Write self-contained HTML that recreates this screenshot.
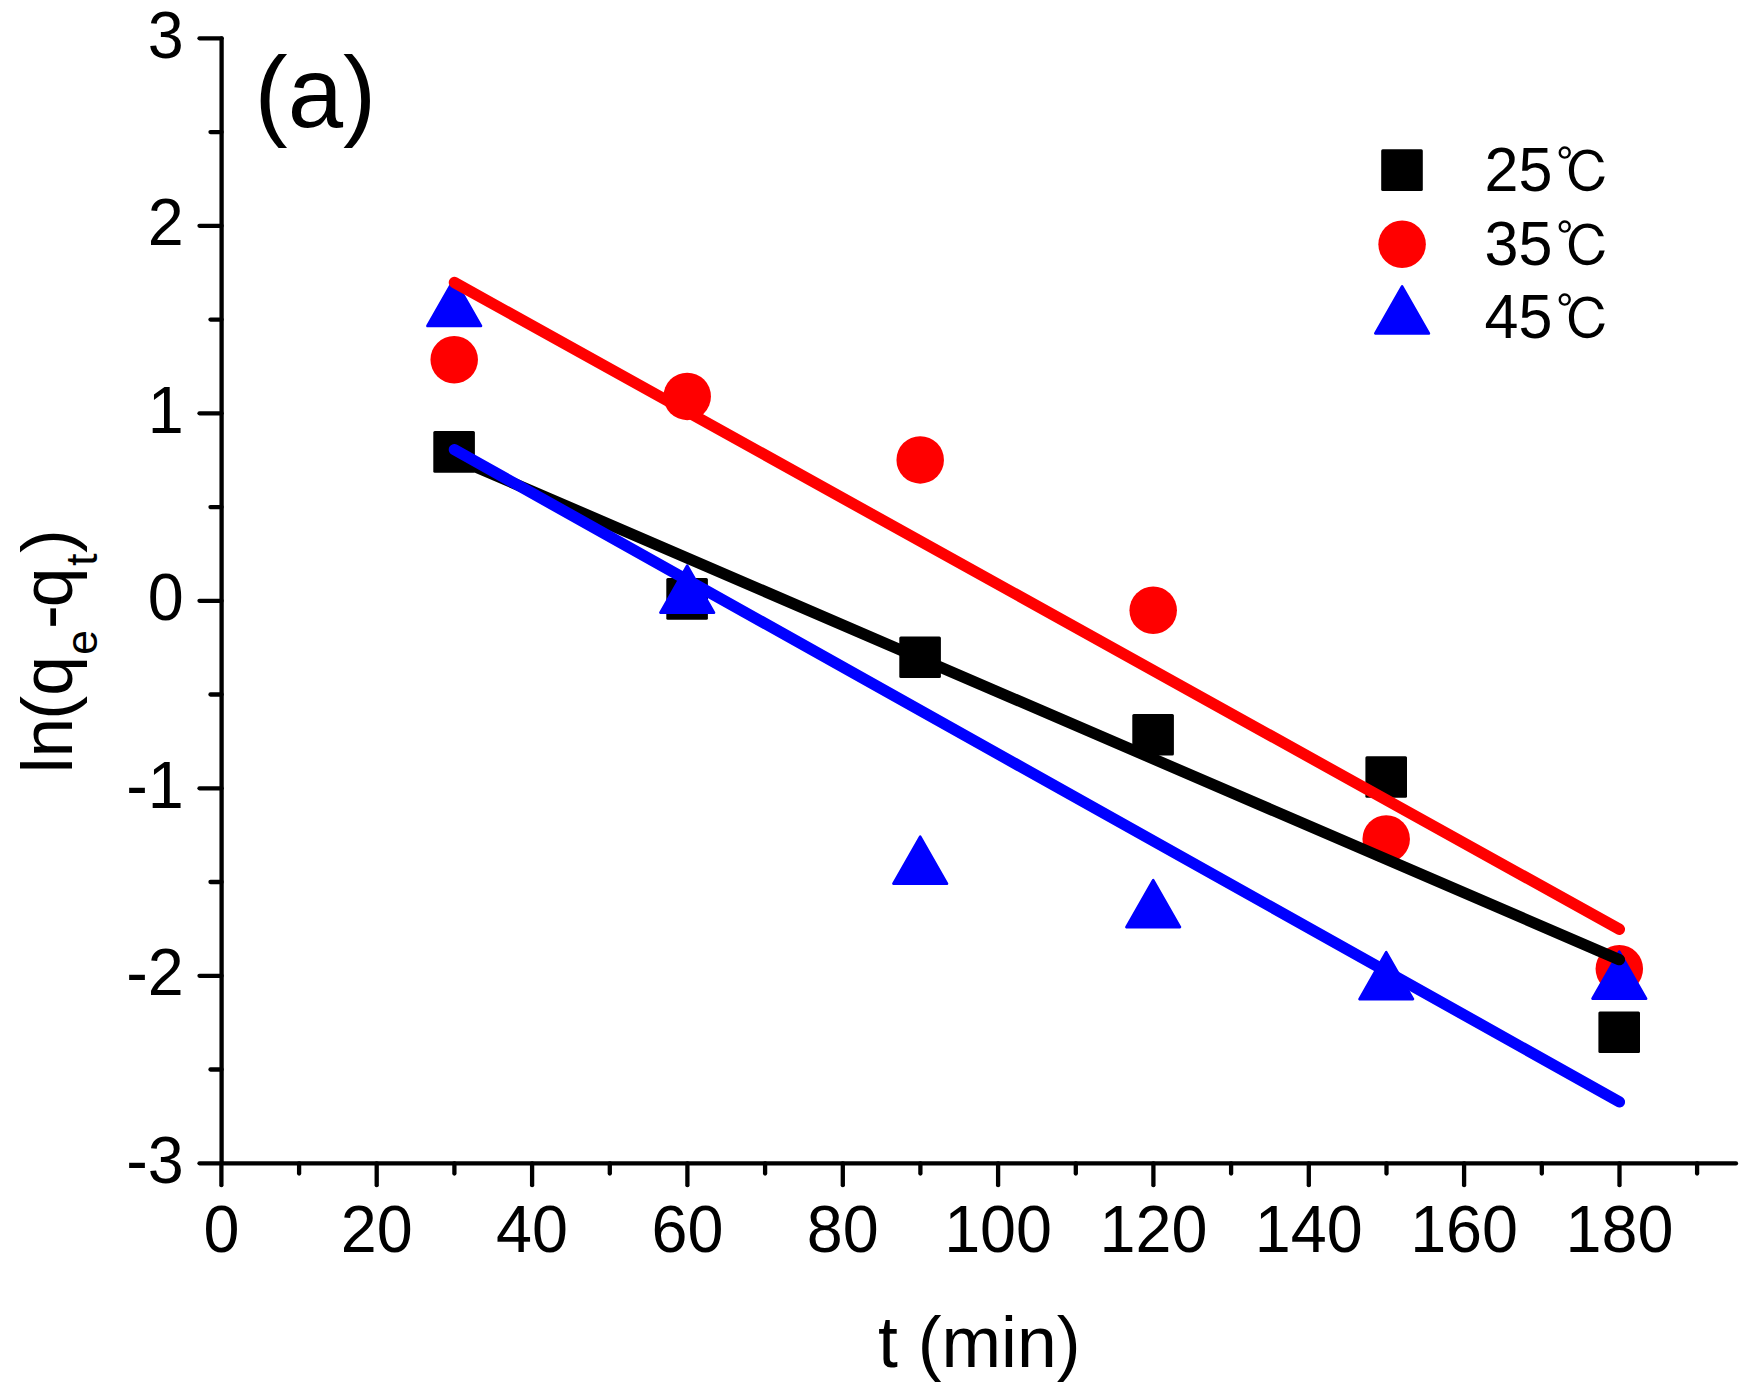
<!DOCTYPE html>
<html><head><meta charset="utf-8"><title>Pseudo-first-order kinetics</title>
<style>html,body{margin:0;padding:0;background:#fff}body{width:1748px;height:1396px;overflow:hidden}svg{display:block}text{font-family:"Liberation Sans","Noto Serif CJK SC",sans-serif;fill:#000}</style>
</head><body>
<svg width="1748" height="1396" viewBox="0 0 1748 1396">
<rect width="1748" height="1396" fill="#fff"/>
<g stroke="#000" stroke-width="4.3" stroke-linecap="round" fill="none">
<line x1="221.6" y1="38.3" x2="221.6" y2="1163.4"/>
<line x1="221.6" y1="1163.4" x2="1736.0" y2="1163.4"/>
<line x1="199.5" y1="38.3" x2="221.6" y2="38.3"/>
<line x1="210.5" y1="132.1" x2="221.6" y2="132.1"/>
<line x1="199.5" y1="225.8" x2="221.6" y2="225.8"/>
<line x1="210.5" y1="319.6" x2="221.6" y2="319.6"/>
<line x1="199.5" y1="413.3" x2="221.6" y2="413.3"/>
<line x1="210.5" y1="507.1" x2="221.6" y2="507.1"/>
<line x1="199.5" y1="600.8" x2="221.6" y2="600.8"/>
<line x1="210.5" y1="694.5" x2="221.6" y2="694.5"/>
<line x1="199.5" y1="788.3" x2="221.6" y2="788.3"/>
<line x1="210.5" y1="882.0" x2="221.6" y2="882.0"/>
<line x1="199.5" y1="975.8" x2="221.6" y2="975.8"/>
<line x1="210.5" y1="1069.5" x2="221.6" y2="1069.5"/>
<line x1="199.5" y1="1163.3" x2="221.6" y2="1163.3"/>
<line x1="221.4" y1="1163.4" x2="221.4" y2="1185.2"/>
<line x1="299.1" y1="1163.4" x2="299.1" y2="1173.6"/>
<line x1="376.7" y1="1163.4" x2="376.7" y2="1185.2"/>
<line x1="454.4" y1="1163.4" x2="454.4" y2="1173.6"/>
<line x1="532.1" y1="1163.4" x2="532.1" y2="1185.2"/>
<line x1="609.8" y1="1163.4" x2="609.8" y2="1173.6"/>
<line x1="687.4" y1="1163.4" x2="687.4" y2="1185.2"/>
<line x1="765.1" y1="1163.4" x2="765.1" y2="1173.6"/>
<line x1="842.8" y1="1163.4" x2="842.8" y2="1185.2"/>
<line x1="920.4" y1="1163.4" x2="920.4" y2="1173.6"/>
<line x1="998.1" y1="1163.4" x2="998.1" y2="1185.2"/>
<line x1="1075.8" y1="1163.4" x2="1075.8" y2="1173.6"/>
<line x1="1153.4" y1="1163.4" x2="1153.4" y2="1185.2"/>
<line x1="1231.1" y1="1163.4" x2="1231.1" y2="1173.6"/>
<line x1="1308.8" y1="1163.4" x2="1308.8" y2="1185.2"/>
<line x1="1386.5" y1="1163.4" x2="1386.5" y2="1173.6"/>
<line x1="1464.1" y1="1163.4" x2="1464.1" y2="1185.2"/>
<line x1="1541.8" y1="1163.4" x2="1541.8" y2="1173.6"/>
<line x1="1619.5" y1="1163.4" x2="1619.5" y2="1185.2"/>
<line x1="1697.1" y1="1163.4" x2="1697.1" y2="1173.6"/>
</g>
<g font-size="64.7">
<text transform="translate(183.8,57.9) scale(1,1.027)" text-anchor="end">3</text>
<text transform="translate(183.8,245.4) scale(1,1.027)" text-anchor="end">2</text>
<text transform="translate(183.8,432.9) scale(1,1.027)" text-anchor="end">1</text>
<text transform="translate(183.8,620.4) scale(1,1.027)" text-anchor="end">0</text>
<text transform="translate(183.8,807.9) scale(1,1.027)" text-anchor="end">-1</text>
<text transform="translate(183.8,995.4) scale(1,1.027)" text-anchor="end">-2</text>
<text transform="translate(183.8,1182.9) scale(1,1.027)" text-anchor="end">-3</text>
<text transform="translate(221.4,1252.3) scale(1,1.027)" text-anchor="middle">0</text>
<text transform="translate(376.7,1252.3) scale(1,1.027)" text-anchor="middle">20</text>
<text transform="translate(532.1,1252.3) scale(1,1.027)" text-anchor="middle">40</text>
<text transform="translate(687.4,1252.3) scale(1,1.027)" text-anchor="middle">60</text>
<text transform="translate(842.8,1252.3) scale(1,1.027)" text-anchor="middle">80</text>
<text transform="translate(998.1,1252.3) scale(1,1.027)" text-anchor="middle">100</text>
<text transform="translate(1153.4,1252.3) scale(1,1.027)" text-anchor="middle">120</text>
<text transform="translate(1308.8,1252.3) scale(1,1.027)" text-anchor="middle">140</text>
<text transform="translate(1464.1,1252.3) scale(1,1.027)" text-anchor="middle">160</text>
<text transform="translate(1619.5,1252.3) scale(1,1.027)" text-anchor="middle">180</text>
</g>
<text x="979.3" y="1366.7" font-size="71.5" text-anchor="middle">t (min)</text>
<text transform="translate(72.1,773.3) rotate(-90)" font-size="71.5">ln<tspan dx="-2">(q</tspan><tspan font-size="45" dx="1.2" dy="25.2">e</tspan><tspan dx="0.8" dy="-25.2">-</tspan><tspan dx="-2">q</tspan><tspan font-size="45" dx="1.5" dy="25.2">t</tspan><tspan dx="0.5" dy="-25.2">)</tspan></text>
<text x="254.5" y="126.5" font-size="99.5">(a)</text>
<g>
<rect x="433.3" y="431.1" width="41.6" height="41.6" rx="1.5" fill="#000"/>
<rect x="666.3" y="578.1" width="41.6" height="41.6" rx="1.5" fill="#000"/>
<rect x="899.3" y="636.5" width="41.6" height="41.6" rx="1.5" fill="#000"/>
<rect x="1132.3" y="713.9" width="41.6" height="41.6" rx="1.5" fill="#000"/>
<rect x="1365.4" y="756.2" width="41.6" height="41.6" rx="1.5" fill="#000"/>
<rect x="1598.4" y="1011.5" width="41.6" height="41.6" rx="1.5" fill="#000"/>
<circle cx="454.2" cy="359.7" r="23.75" fill="#f00"/>
<circle cx="687.2" cy="396.4" r="23.75" fill="#f00"/>
<circle cx="920.2" cy="459.9" r="23.75" fill="#f00"/>
<circle cx="1153.2" cy="610.3" r="23.75" fill="#f00"/>
<circle cx="1386.2" cy="839.0" r="23.75" fill="#f00"/>
<circle cx="1619.3" cy="968.8" r="23.75" fill="#f00"/>
<polygon points="427.4,326.0 481.0,326.0 454.2,279.0" fill="#00f" stroke="#00f" stroke-width="2.6" stroke-linejoin="round"/>
<polygon points="660.4,612.7 714.0,612.7 687.2,565.7" fill="#00f" stroke="#00f" stroke-width="2.6" stroke-linejoin="round"/>
<polygon points="893.4,883.7 947.0,883.7 920.2,836.7" fill="#00f" stroke="#00f" stroke-width="2.6" stroke-linejoin="round"/>
<polygon points="1126.4,927.1 1180.0,927.1 1153.2,880.1" fill="#00f" stroke="#00f" stroke-width="2.6" stroke-linejoin="round"/>
<polygon points="1359.5,999.1 1413.0,999.1 1386.2,952.1" fill="#00f" stroke="#00f" stroke-width="2.6" stroke-linejoin="round"/>
<polygon points="1592.5,998.7 1646.1,998.7 1619.3,951.7" fill="#00f" stroke="#00f" stroke-width="2.6" stroke-linejoin="round"/>
</g>
<g stroke-width="11.3" stroke-linecap="round" fill="none">
<line x1="454.4" y1="457.7" x2="1619.4" y2="959.7" stroke="#000"/>
<line x1="454.4" y1="282.5" x2="1619.4" y2="929.3" stroke="#f00"/>
<line x1="454.4" y1="449.6" x2="1619.4" y2="1101.9" stroke="#00f"/>
</g>
<rect x="1381.2" y="149.3" width="41.6" height="41.6" rx="1.5" fill="#000"/>
<circle cx="1402.1" cy="244.3" r="23.75" fill="#f00"/>
<polygon points="1375.3,333.4 1428.9,333.4 1402.1,286.4" fill="#00f" stroke="#00f" stroke-width="2.6" stroke-linejoin="round"/>
<text transform="translate(1484.5,191.0) scale(1,1.03)" font-size="61">25<tspan x="71.2" y="1.5" font-family="IPAGothic,Noto Serif CJK SC,serif" font-size="54.9">℃</tspan></text>
<text transform="translate(1484.5,265.2) scale(1,1.03)" font-size="61">35<tspan x="71.2" y="1.5" font-family="IPAGothic,Noto Serif CJK SC,serif" font-size="54.9">℃</tspan></text>
<text transform="translate(1484.5,338.3) scale(1,1.03)" font-size="61">45<tspan x="71.2" y="1.5" font-family="IPAGothic,Noto Serif CJK SC,serif" font-size="54.9">℃</tspan></text>
</svg>
</body></html>
